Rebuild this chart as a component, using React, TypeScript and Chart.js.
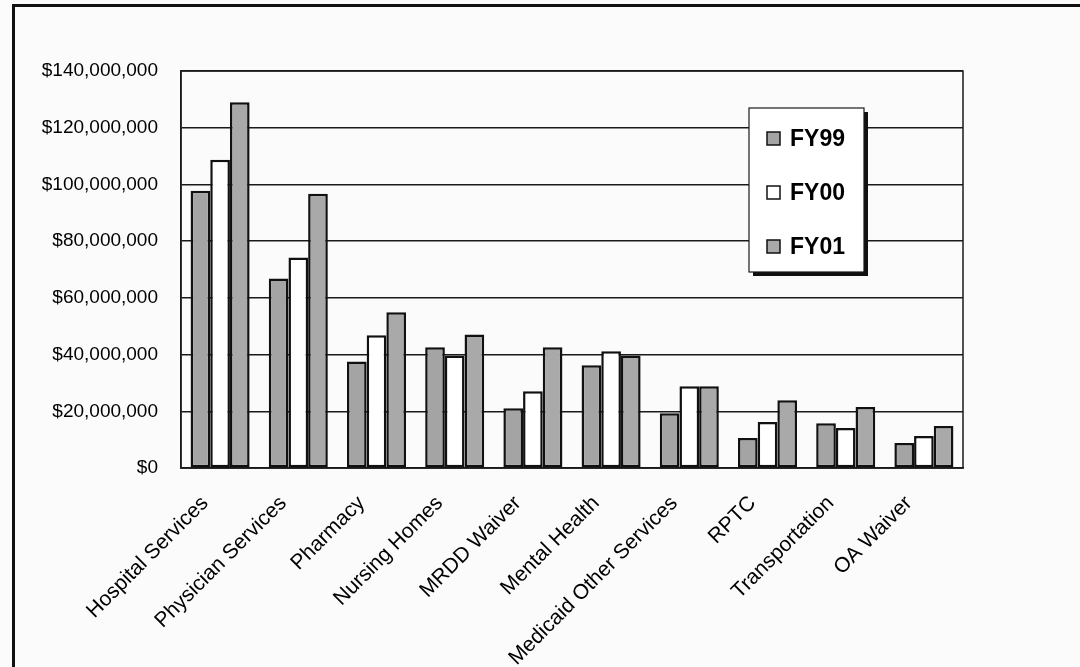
import React, { useEffect, useRef } from "react";
import { Chart, registerables } from "chart.js";

Chart.register(...registerables);

// Program categories along the x axis
const CATEGORIES = [
  "Hospital Services",
  "Physician Services",
  "Pharmacy",
  "Nursing Homes",
  "MRDD Waiver",
  "Mental Health",
  "Medicaid Other Services",
  "RPTC",
  "Transportation",
  "OA Waiver",
];

// Spending per fiscal year, in dollars
const FY99 = [97800000, 66800000, 37600000, 42600000, 21100000, 36200000, 19300000, 10600000, 15800000, 8800000];
const FY00 = [108700000, 74200000, 46800000, 39700000, 27100000, 41200000, 28800000, 16200000, 14100000, 11300000];
const FY01 = [129000000, 96700000, 54900000, 47100000, 42600000, 39700000, 28800000, 23900000, 21500000, 14800000];

const SERIES_LABELS = ["FY99", "FY00", "FY01"];
const SERIES_COLORS = ["#a4a4a4", "#ffffff", "#a9a9a9"];

// Y axis range and step
const Y_MIN = 0;
const Y_MAX = 140000000;
const Y_STEP = 20000000;

const FONT = "'Liberation Sans', Arial, sans-serif";

// Page background, outer frame and the box around the plot area
const framePlugin = {
  id: "frame",
  beforeDraw(chart: any) {
    const { ctx, width, height } = chart;
    ctx.save();
    ctx.fillStyle = "#fbfbfb";
    ctx.fillRect(0, 0, width, height);
    ctx.fillStyle = "#111";
    ctx.fillRect(12, 4, width - 12, 3);
    ctx.fillRect(12, 4, 3, height - 4);
    ctx.restore();
  },
  afterDatasetsDraw(chart: any) {
    const { ctx, chartArea } = chart;
    ctx.save();
    ctx.strokeStyle = "#1a1a1a";
    ctx.lineWidth = 1.5;
    ctx.strokeRect(chartArea.left, chartArea.top, chartArea.right - chartArea.left, chartArea.bottom - chartArea.top);
    ctx.restore();
  },
};

// Boxed legend with a drop shadow, placed inside the plot area
const boxLegendPlugin = {
  id: "boxLegend",
  afterDraw(chart: any) {
    const { ctx } = chart;
    const x = 749;
    const y = 108;
    const w = 115;
    const h = 164;
    ctx.save();
    ctx.fillStyle = "#111";
    ctx.fillRect(x + 4, y + 4, w, h);
    ctx.fillStyle = "#ffffff";
    ctx.fillRect(x, y, w, h);
    ctx.strokeStyle = "#1a1a1a";
    ctx.lineWidth = 1.2;
    ctx.strokeRect(x, y, w, h);
    ctx.font = `bold 23px ${FONT}`;
    ctx.textBaseline = "middle";
    ctx.textAlign = "left";
    chart.data.datasets.forEach((ds: any, i: number) => {
      const cy = y + 31 + i * 54;
      ctx.fillStyle = ds.backgroundColor;
      ctx.fillRect(x + 18, cy - 7, 13, 13);
      ctx.strokeStyle = "#111";
      ctx.lineWidth = 1.5;
      ctx.strokeRect(x + 18, cy - 7, 13, 13);
      ctx.fillStyle = "#000";
      ctx.fillText(ds.label, x + 41, cy + 1);
    });
    ctx.restore();
  },
};

export default function App() {
  const canvasRef = useRef<HTMLCanvasElement | null>(null);

  useEffect(() => {
    if (!canvasRef.current) return;
    const seriesData = [FY99, FY00, FY01];
    const chart = new Chart(canvasRef.current, {
      type: "bar",
      data: {
        labels: CATEGORIES,
        datasets: seriesData.map((values, i) => ({
          label: SERIES_LABELS[i],
          data: values,
          backgroundColor: SERIES_COLORS[i],
          borderColor: "#111111",
          borderWidth: 2.5,
          borderSkipped: false,
          categoryPercentage: 0.755,
          barPercentage: 1.0,
        })),
      },
      options: {
        animation: false,
        responsive: false,
        devicePixelRatio: 1,
        layout: { padding: { left: 0, top: 71, right: 117, bottom: 0 } },
        plugins: {
          legend: { display: false },
          tooltip: { enabled: false },
        },
        scales: {
          x: {
            grid: { display: false, drawTicks: false },
            border: { display: true, color: "#1a1a1a", width: 1.5 },
            ticks: {
              autoSkip: false,
              minRotation: 45,
              maxRotation: 45,
              padding: 23,
              labelOffset: -15,
              color: "#000",
              font: { family: FONT, size: 21 },
            },
            afterFit(scale: any) {
              scale.height = 199;
            },
          },
          y: {
            min: Y_MIN,
            max: Y_MAX,
            ticks: {
              stepSize: Y_STEP,
              padding: 23,
              color: "#000",
              font: { family: FONT, size: 19 },
              callback: (v: any) => "$" + Number(v).toLocaleString("en-US"),
            },
            grid: { color: "#1a1a1a", lineWidth: 1.5, drawTicks: false },
            border: { display: true, color: "#1a1a1a", width: 1.5 },
            afterFit(scale: any) {
              scale.width = 181;
            },
          },
        },
      },
      plugins: [framePlugin, boxLegendPlugin],
    });
    return () => chart.destroy();
  }, []);

  return (
    <div style={{ position: "absolute", left: 0, top: 0, width: 1080, height: 667 }}>
      <canvas ref={canvasRef} width={1080} height={667} style={{ width: 1080, height: 667, display: "block" }} />
    </div>
  );
}
